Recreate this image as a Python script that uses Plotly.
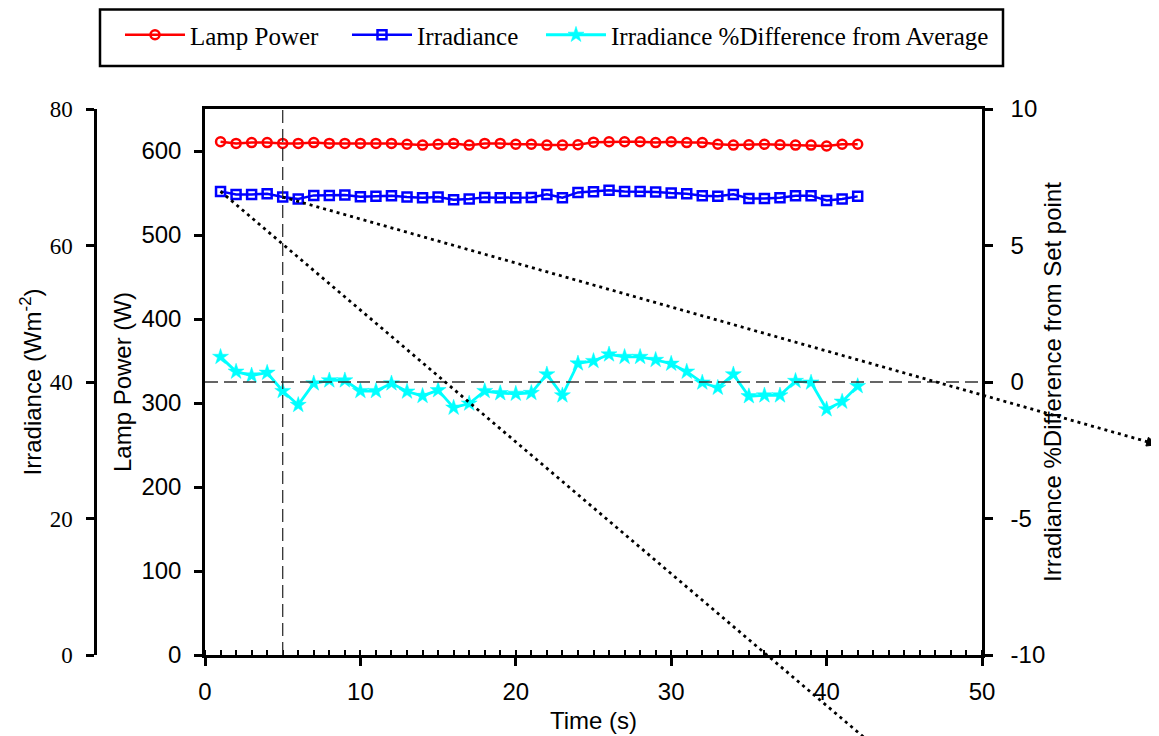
import math
import plotly.graph_objects as go

W, H = 1159, 736
OFF = 8                    # page body margin in the browser
FW, FH = W - OFF, H - OFF  # figure size so that it ends at the window edge

# ---------------- data ----------------
time_s = list(range(1, 43))
lamp_power = [611, 609, 610, 610, 609, 609, 610, 609, 609, 609,
              609, 609, 608, 607, 608, 609, 607, 609, 609, 608,
              608, 607, 607, 607.5, 610.5, 611, 611, 611, 610, 611,
              610, 610, 608, 607, 607.5, 608, 607.5, 607, 607, 606,
              608, 608]
irradiance = [67.93, 67.49, 67.49, 67.59, 67.10, 66.80, 67.34, 67.34, 67.40, 67.15,
              67.20, 67.30, 67.10, 67.00, 67.10, 66.70, 66.80, 67.05, 67.00, 67.00,
              67.05, 67.49, 67.00, 67.78, 67.88, 68.08, 67.93, 67.93, 67.83, 67.68,
              67.59, 67.30, 67.20, 67.49, 66.90, 66.90, 67.00, 67.30, 67.30, 66.60,
              66.80, 67.20]
irr_pct_diff = [0.92, 0.38, 0.24, 0.34, -0.33, -0.84, -0.05, 0.06, 0.06, -0.33,
                -0.33, -0.05, -0.35, -0.51, -0.30, -0.94, -0.79, -0.33, -0.41, -0.43,
                -0.40, 0.28, -0.49, 0.68, 0.77, 1.01, 0.92, 0.92, 0.81, 0.67,
                0.38, -0.02, -0.21, 0.28, -0.52, -0.49, -0.49, 0.04, -0.02, -1.00,
                -0.72, -0.15]

x_ticks = [0, 10, 20, 30, 40, 50]
power_ticks = [0, 100, 200, 300, 400, 500, 600]
irr_ticks = [0, 20, 40, 60, 80]
pct_ticks = [-10, -5, 0, 5, 10]
pct_tick_text = ["-10", "-5", "0", "5", "10"]
marker_time = 5          # vertical reference line
set_point_pct = 0        # horizontal reference line

# ---------------- layout geometry (window pixels) ----------------
PL, PR, PT, PB = 205, 982, 109, 655
X_RANGE = [0, 50]
P_RANGE = [0, 650]
I_RANGE = [0, 80]
D_RANGE = [-10, 10]

def pxx(px):
    return (px - OFF) / FW

def pxy(py):
    return 1 - (py - OFF) / FH

def t_to_px(t):
    return PL + (t - X_RANGE[0]) / (X_RANGE[1] - X_RANGE[0]) * (PR - PL)

def irr_to_px(v):
    return PB - (v - I_RANGE[0]) / (I_RANGE[1] - I_RANGE[0]) * (PB - PT)

SANS = "Liberation Sans, Arial, sans-serif"
SERIF = "Liberation Serif, Times New Roman, serif"
RED, BLUE, CYAN = "#FF0000", "#0000FF", "#00FFFF"

fig = go.Figure()
fig.add_trace(go.Scatter(
    x=time_s, y=lamp_power, name="Lamp Power", mode="lines+markers",
    line=dict(color=RED, width=2.5),
    marker=dict(symbol="circle-open", size=9, color=RED, line=dict(width=2.5, color=RED)),
    yaxis="y", legend="legend"))
fig.add_trace(go.Scatter(
    x=time_s, y=irradiance, name="Irradiance", mode="lines+markers",
    line=dict(color=BLUE, width=2.5),
    marker=dict(symbol="square-open", size=9, color=BLUE, line=dict(width=2.5, color=BLUE)),
    yaxis="y2", legend="legend2"))
fig.add_trace(go.Scatter(
    x=time_s, y=irr_pct_diff, name="Irradiance %Difference from Average", mode="lines+markers",
    line=dict(color=CYAN, width=2.8),
    marker=dict(symbol="star", size=12, color=CYAN, line=dict(width=0.5, color=CYAN)),
    yaxis="y3", legend="legend3"))

axis_common = dict(showline=True, linecolor="black", linewidth=2.5, showgrid=False,
                   zeroline=False, ticks="outside", tickcolor="black", tickwidth=2.5,
                   ticklen=8, automargin=False)

tfont = dict(family=SANS, size=24, color="black")
titlefont = dict(family=SANS, size=24, color="black")

leg_common = dict(orientation="h", xanchor="left", yanchor="middle", y=pxy(35),
                  bgcolor="rgba(0,0,0,0)", borderwidth=0,
                  font=dict(family=SERIF, size=25, color="black"), itemwidth=60)

fig.update_layout(
    width=FW, height=FH, autosize=False,
    margin=dict(l=0, r=0, t=0, b=0),
    paper_bgcolor="white", plot_bgcolor="white",
    showlegend=True,
    legend=dict(x=pxx(190 - 70), **leg_common),
    legend2=dict(x=pxx(417 - 70), **leg_common),
    legend3=dict(x=pxx(611 - 70), **leg_common),
    xaxis=dict(domain=[pxx(PL), pxx(PR)], range=X_RANGE, tickvals=x_ticks,
               anchor="y", mirror=True, tickfont=tfont, ticklabelstandoff=5,
               title=dict(text="Time (s)", font=titlefont, standoff=9),
               minor=dict(ticks="inside", dtick=1, ticklen=5, tickwidth=1.5,
                          tickcolor="black", showgrid=False),
               **axis_common),
    yaxis=dict(domain=[pxy(PB), pxy(PT)], range=P_RANGE, tickvals=power_ticks,
               anchor="x", side="left", tickfont=tfont, ticklabelstandoff=8,
               title=dict(text="Lamp Power (W)", font=titlefont, standoff=4),
               **axis_common),
    yaxis2=dict(overlaying="y", anchor="free", position=pxx(95), side="left",
                range=I_RANGE, tickvals=irr_ticks, ticklabelstandoff=9,
                tickfont=dict(family=SERIF, size=23, color="black"),
                title=dict(text="Irradiance (Wm<sup>-2</sup>)", font=titlefont, standoff=0),
                **axis_common),
    yaxis3=dict(overlaying="y", anchor="x", side="right", ticklabelstandoff=13,
                range=D_RANGE, tickvals=pct_ticks, ticktext=pct_tick_text, tickfont=tfont,
                title=dict(text="Irradiance %Difference from Set point", font=titlefont, standoff=0),
                **axis_common),
)

# reference dashed lines
fig.add_shape(type="line", xref="x", yref="paper", x0=marker_time, x1=marker_time,
              y0=pxy(PB), y1=pxy(PT), line=dict(color="#333333", width=1.3, dash="13px,6px"))
fig.add_shape(type="line", xref="paper", yref="y3", x0=pxx(PL), x1=pxx(PR),
              y0=set_point_pct, y1=set_point_pct,
              line=dict(color="#333333", width=1.3, dash="13px,6px"))

# dotted guide lines starting at irradiance points (t=1 and t=5)
dot_style = dict(color="black", width=2.8, dash="3px,4px")
sa_x, sa_y = t_to_px(time_s[0]), irr_to_px(irradiance[0])
slope_a = 0.8485
end_a_y = 770
end_a_x = sa_x + (end_a_y - sa_y) / slope_a
fig.add_shape(type="line", xref="paper", yref="paper",
              x0=pxx(sa_x), y0=pxy(sa_y), x1=pxx(end_a_x), y1=pxy(end_a_y), line=dot_style)

sb_x, sb_y = t_to_px(time_s[4]), irr_to_px(irradiance[4])
slope_b = 0.2830
end_b_x = 1150
end_b_y = sb_y + (end_b_x - sb_x) * slope_b
fig.add_shape(type="line", xref="paper", yref="paper",
              x0=pxx(sb_x), y0=pxy(sb_y), x1=pxx(end_b_x), y1=pxy(end_b_y), line=dot_style)

# arrowhead at the end of the second guide line
norm = math.hypot(1, slope_b)
ux, uy = 1 / norm, slope_b / norm
tip_x, tip_y = end_b_x + 8 * ux, end_b_y + 8 * uy
head_len, head_half = 11, 4.5
bx, by = tip_x - head_len * ux, tip_y - head_len * uy
p1 = (bx - head_half * uy, by + head_half * ux)
p2 = (bx + head_half * uy, by - head_half * ux)
path = "M {:.5f} {:.5f} L {:.5f} {:.5f} L {:.5f} {:.5f} Z".format(
    pxx(tip_x), pxy(tip_y), pxx(p1[0]), pxy(p1[1]), pxx(p2[0]), pxy(p2[1]))
fig.add_shape(type="path", xref="paper", yref="paper", path=path,
              fillcolor="black", line=dict(color="black", width=1))

# legend frame (top edge kept inside the visible figure area)
fig.add_shape(type="rect", xref="paper", yref="paper",
              x0=pxx(100), x1=pxx(1003), y0=pxy(66), y1=pxy(9.5),
              line=dict(color="black", width=2.5), fillcolor="rgba(0,0,0,0)")

fig.write_html("out.html")
